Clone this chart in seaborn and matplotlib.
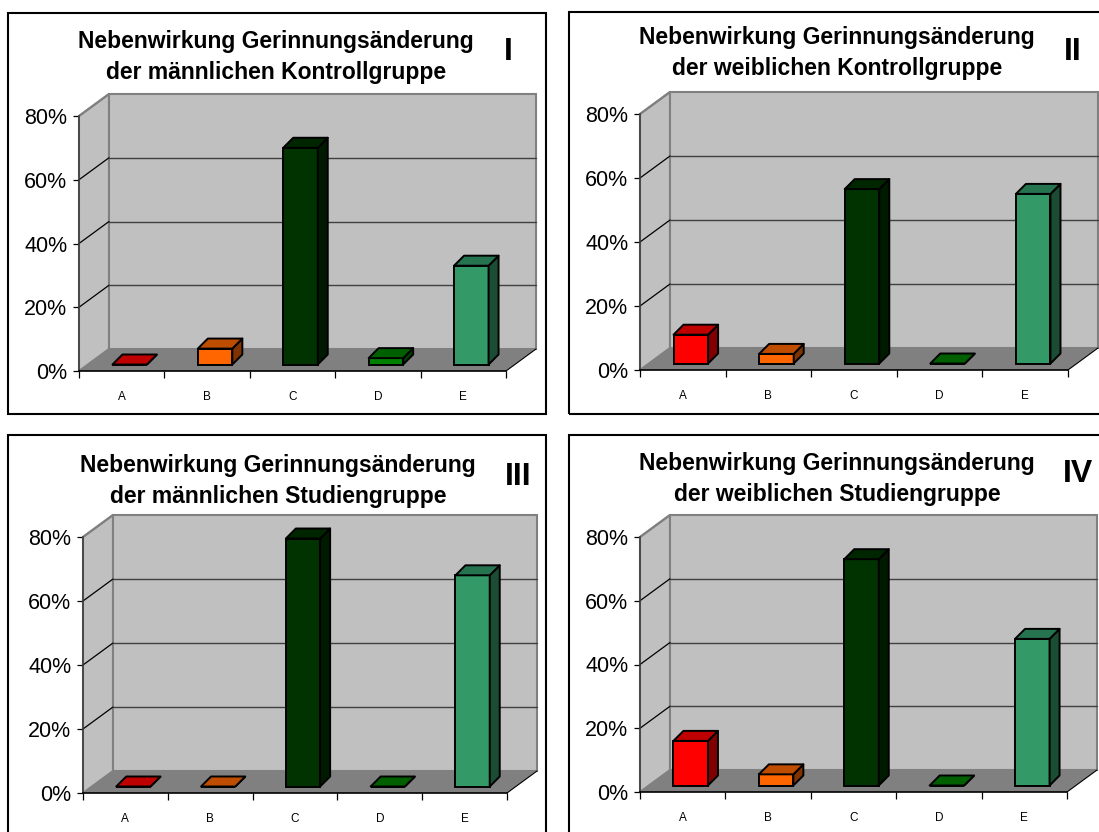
import matplotlib
matplotlib.use("Agg")
import matplotlib.pyplot as plt
import seaborn as sns
from matplotlib.patches import Polygon, Rectangle
from matplotlib.lines import Line2D
from matplotlib.transforms import Affine2D, IdentityTransform

CATEGORIES = ["A", "B", "C", "D", "E"]
Y_TICKS = [0, 20, 40, 60, 80]

TITLE_1 = "Nebenwirkung Gerinnungsänderung\nder männlichen Kontrollgruppe"
TITLE_2 = "Nebenwirkung Gerinnungsänderung\nder weiblichen Kontrollgruppe"
TITLE_3 = "Nebenwirkung Gerinnungsänderung\nder männlichen Studiengruppe"
TITLE_4 = "Nebenwirkung Gerinnungsänderung\nder weiblichen Studiengruppe"

VALUES_1 = [0, 5, 68, 2, 31]
VALUES_2 = [9, 3, 54.5, 0, 53]
VALUES_3 = [0, 0, 77.5, 0, 66]
VALUES_4 = [14, 3.5, 71, 0, 46]

FRONT = ["#FF0000", "#FF6600", "#003300", "#008000", "#339966"]
SIDE = ["#800000", "#803300", "#001A00", "#004000", "#1A4D33"]
TOP = ["#BF0000", "#BF4D00", "#002600", "#006000", "#267350"]

W, H = 1099, 832
DEPTH = (30, 22)       # shift of the back wall, pixels
BAR_SHIFT = (8, 6.5)   # shift of the bar plane from the front axis, pixels
BAR_DEPTH = (10, 10)   # depth of each bar, pixels

sns.set_theme(style="white")
plt.rcParams["font.family"] = ["Liberation Sans", "DejaVu Sans"]

fig = plt.figure(figsize=(W / 100, H / 100), dpi=100, facecolor="white")


def fx(x):
    return x / W


def fy(y):
    return 1 - y / H


def draw_panel(values, title, numeral, frame, axis, title_xy, numeral_xy):
    fig.add_artist(Rectangle((fx(frame[0]), fy(frame[3])), (frame[2] - frame[0]) / W,
                             (frame[3] - frame[1]) / H, transform=fig.transFigure,
                             fill=False, edgecolor="black", linewidth=1.5))

    left, right, y0, y80 = axis
    ax = fig.add_axes([fx(left), fy(y0), (right - left) / W, (y0 - y80) / H])
    ax.patch.set_visible(False)
    sns.barplot(x=CATEGORIES, y=values, hue=CATEGORIES, palette=FRONT, legend=False,
                width=0.404, edgecolor="black", linewidth=1.4, saturation=1, ax=ax)
    ax.set_xlim(-0.5, 4.5)
    ax.set_ylim(0, 80)

    to_px = ax.transData.transform
    dx, dy = DEPTH
    ident = IdentityTransform()

    # walls and floor
    x0, yb = to_px((-0.5, 0))
    x1, yt = to_px((4.5, 80))
    wall = "#C0C0C0"
    edge = "#808080"
    ax.add_patch(Polygon([(x0, yb), (x0, yt), (x0 + dx, yt + dy), (x0 + dx, yb + dy)],
                         transform=ident, facecolor=wall, edgecolor=edge, linewidth=1.5,
                         zorder=0.5, clip_on=False))
    ax.add_patch(Polygon([(x0 + dx, yb + dy), (x0 + dx, yt + dy), (x1 + dx, yt + dy), (x1 + dx, yb + dy)],
                         transform=ident, facecolor=wall, edgecolor=edge, linewidth=1.5,
                         zorder=0.6, clip_on=False))
    ax.add_patch(Polygon([(x0, yb), (x1, yb), (x1 + dx, yb + dy), (x0 + dx, yb + dy)],
                         transform=ident, facecolor="#808080", edgecolor="none",
                         zorder=0.7, clip_on=False))
    ax.add_line(Line2D([x1, x1 + dx], [yb, yb + dy], transform=ident, color="black",
                       linewidth=0.8, zorder=0.8, clip_on=False))

    # gridlines run along the side wall and across the back wall
    for tick in Y_TICKS[1:]:
        _, py = to_px((0, tick))
        colour = "#808080" if tick == 80 else "black"
        width = 1.5 if tick == 80 else 0.9
        ax.add_line(Line2D([x0, x0 + dx], [py, py + dy], transform=ident, color=colour,
                           linewidth=width, zorder=0.8, clip_on=False))
        if tick < 80:
            ax.add_line(Line2D([x0 + dx, x1 + dx], [py + dy, py + dy], transform=ident,
                               color="#404040", linewidth=1.0, zorder=0.8, clip_on=False))

    # bars sit on a plane slightly behind the front axis, with top and side faces
    sx, sy = BAR_SHIFT
    bx, by = BAR_DEPTH
    shift = ax.transData + Affine2D().translate(sx, sy)
    for bar, side, top in zip(ax.patches, SIDE, TOP):
        bar.set_transform(shift)
        bar.set_clip_on(False)
        bar.set_zorder(3)
        (xa, ya) = to_px((bar.get_x(), 0))
        (xb, yc) = to_px((bar.get_x() + bar.get_width(), bar.get_height()))
        xa, xb, ya, yc = xa + sx, xb + sx, ya + sy, yc + sy
        ax.add_patch(Polygon([(xb, ya), (xb, yc), (xb + bx, yc + by), (xb + bx, ya + by)],
                             transform=ident, facecolor=side, edgecolor="black",
                             linewidth=1.4, joinstyle="round", zorder=3, clip_on=False))
        ax.add_patch(Polygon([(xa, yc), (xb, yc), (xb + bx, yc + by), (xa + bx, yc + by)],
                             transform=ident, facecolor=top, edgecolor="black",
                             linewidth=1.4, joinstyle="round", zorder=3, clip_on=False))

    # axes furniture
    for name in ("top", "right"):
        ax.spines[name].set_visible(False)
    ax.spines["left"].set_color("#404040")
    ax.spines["left"].set_linewidth(1.2)
    ax.spines["bottom"].set_color("black")
    ax.spines["bottom"].set_linewidth(1.2)
    ax.set_zorder(1)
    ax.set_yticks(Y_TICKS, [f"{t}%" for t in Y_TICKS])
    ax.set_xticks([i - 0.5 for i in range(6)], [""] * 6)
    ax.set_xticks(range(5), CATEGORIES, minor=True)
    ax.set_xlabel("")
    ax.set_ylabel("")
    ax.tick_params(axis="y", which="major", left=True, length=4, width=0.9, color="black",
                   labelsize=15.5, pad=4.5, labelcolor="black")
    ax.tick_params(axis="x", which="major", bottom=True, length=5, width=0.9, color="black")
    ax.tick_params(axis="x", which="minor", bottom=False, length=0, labelsize=8.5,
                   pad=14.5, labelcolor="black")

    fig.text(fx(title_xy[0]), fy(title_xy[1]), title, ha="center", va="center",
             fontsize=16.5, fontweight="bold", color="black", linespacing=1.49)
    fig.text(fx(numeral_xy[0]), fy(numeral_xy[1]), numeral, ha="center", va="center",
             fontsize=23, fontweight="bold", color="black")


draw_panel(VALUES_1, TITLE_1, "I", (8, 13, 546, 414), (79, 506, 371, 116), (276, 57), (508, 52))
draw_panel(VALUES_2, TITLE_2, "II", (569, 12, 1103, 414), (640, 1068, 370, 114), (837, 53), (1073, 52))
draw_panel(VALUES_3, TITLE_3, "III", (8, 435, 546, 836), (83, 507, 793, 537), (278, 481), (518, 477))
draw_panel(VALUES_4, TITLE_4, "IV", (569, 435, 1103, 836), (640, 1067, 792, 537), (837, 479), (1078, 474))

fig.savefig("out.png", dpi=100, facecolor="white")
